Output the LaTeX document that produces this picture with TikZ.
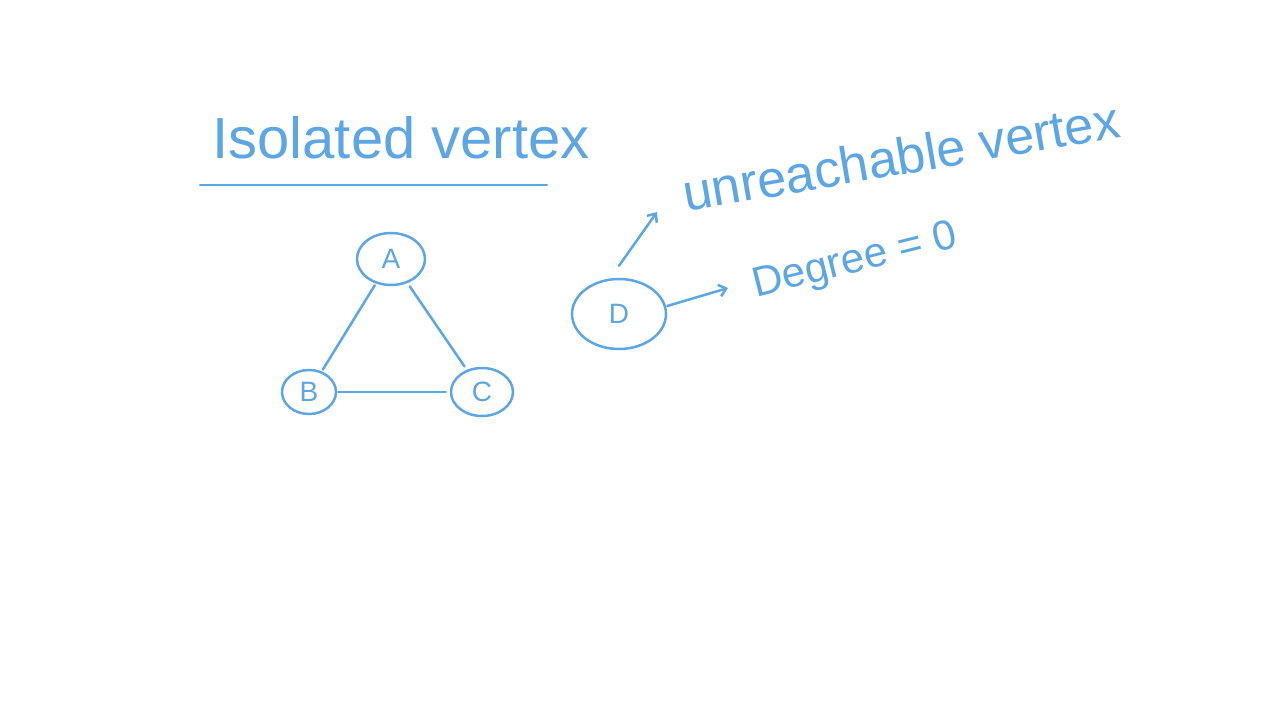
\documentclass[tikz,border=0pt]{standalone}
\usepackage{fontspec}
\setmainfont{Liberation Sans}
\usetikzlibrary{arrows.meta,shapes.geometric}
\definecolor{handblue}{RGB}{93,166,228}
\begin{document}
\begin{tikzpicture}[x=1pt,y=-1pt,
  ink/.style={draw=handblue,line width=2.5pt,line cap=round,line join=round},
  vert/.style={ink,ellipse,inner sep=0pt,text=handblue,font=\fontsize{28}{30}\selectfont},
  arr/.style={ink,-{Straight Barb[length=7pt,width=12pt,line width=2.5pt]}},
  lbl/.style={text=handblue,inner sep=0pt}]
\useasboundingbox (0,0) rectangle (1280,720);
% title
\node[lbl,font=\fontsize{58}{60}\selectfont] (title) at (401,138) {Isolated vertex};
\coordinate (ul1) at (200,185);
\coordinate (ul2) at (547,185);
\draw[ink] (ul1) -- (ul2);
% graph
\node[vert,minimum width=68pt,minimum height=52pt] (A) at (391,259) {A};
\node[vert,minimum width=54pt,minimum height=44pt] (B) at (309,392) {B};
\node[vert,minimum width=62pt,minimum height=48pt] (C) at (482,392) {C};
\draw[ink,shorten <=2pt,shorten >=2pt] (A) -- (B);
\draw[ink,shorten <=4pt,shorten >=4pt] (A) -- (C);
\draw[ink,shorten <=1pt,shorten >=4pt] (B) -- (C);
% isolated vertex
\node[vert,minimum width=94pt,minimum height=70pt] (D) at (619,314) {D};
\coordinate (u) at (657,212);
\coordinate (g) at (728,288);
\draw[arr] ([yshift=12pt]D.north) -- (u);
\draw[arr] ([yshift=8pt]D.east) -- (g);
\node[lbl,font=\fontsize{52}{54}\selectfont,rotate=9.75] (unr) at (901,156) {unreachable vertex};
\node[lbl,font=\fontsize{42}{44}\selectfont,rotate=14] (deg) at (855,262) {Degree = 0};
\end{tikzpicture}
\end{document}
